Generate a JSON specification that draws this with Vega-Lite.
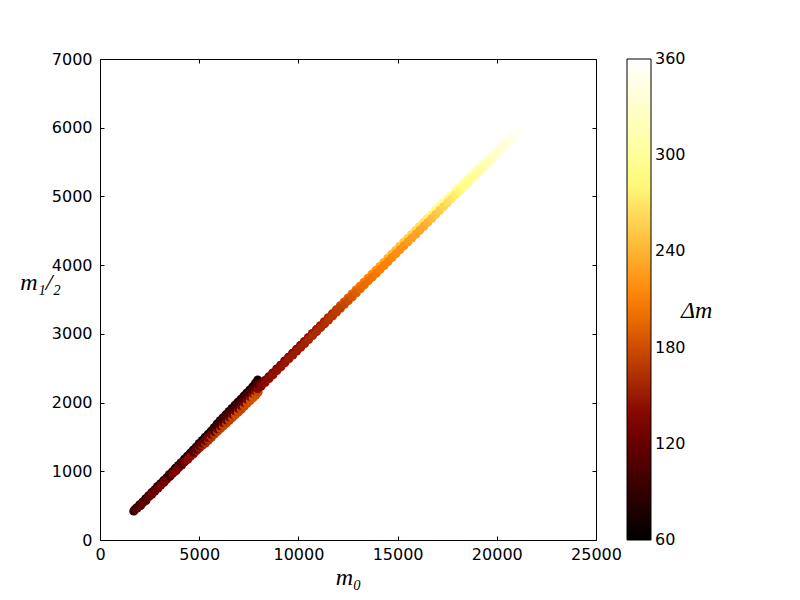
{
  "$schema": "https://vega.github.io/schema/vega-lite/v6.json",
  "width": 496,
  "height": 481,
  "autosize": {"type": "none"},
  "padding": {"left": 100, "top": 59, "right": 204, "bottom": 60},
  "background": "white",
  "title": {"text": "Δm", "orient": "top", "anchor": "start", "frame": "group", "offset": 0, "dx": 581, "dy": 284,
    "baseline": "middle", "font": "Liberation Serif", "fontStyle": "italic", "fontWeight": "normal", "fontSize": 24, "color": "black"},
  "config": {
    "view": {"stroke": "black", "strokeWidth": 1},
    "axis": {
      "domain": false,
      "grid": false,
      "tickColor": "black",
      "tickSize": -4,
      "labelFlush": false,
      "labelFont": "DejaVu Sans",
      "labelFontSize": 16,
      "labelColor": "black",
      "labelPadding": 9,
      "titleFont": "Liberation Serif",
      "titleFontStyle": "italic",
      "titleFontWeight": "normal",
      "titleFontSize": 24,
      "titleColor": "black"
    }
  },
  "data": {
    "values": [
      {"x":1700,"y":420,"d":85},{"x":1750,"y":440,"d":100},
      {"x":1850,"y":470,"d":90},{"x":1880,"y":465,"d":110},
      {"x":2000,"y":515,"d":80},{"x":2050,"y":500,"d":115},
      {"x":2150,"y":555,"d":85},{"x":2170,"y":545,"d":120},
      {"x":2300,"y":600,"d":75},{"x":2320,"y":575,"d":110},
      {"x":2450,"y":645,"d":80},{"x":2470,"y":630,"d":115},
      {"x":2600,"y":690,"d":90},{"x":2620,"y":665,"d":125},
      {"x":2750,"y":730,"d":85},{"x":2770,"y":712,"d":125},
      {"x":2900,"y":780,"d":70},{"x":2930,"y":755,"d":120},
      {"x":3050,"y":820,"d":75},{"x":3070,"y":800,"d":128},
      {"x":3200,"y":865,"d":85},{"x":3230,"y":840,"d":130},
      {"x":3350,"y":905,"d":80},{"x":3370,"y":885,"d":125},
      {"x":3500,"y":955,"d":75},{"x":3530,"y":925,"d":125},{"x":3480,"y":935,"d":100},
      {"x":3650,"y":995,"d":72},{"x":3670,"y":970,"d":130},
      {"x":3800,"y":1045,"d":70},{"x":3830,"y":1005,"d":135},
      {"x":3950,"y":1085,"d":75},{"x":3970,"y":1055,"d":132},
      {"x":4100,"y":1130,"d":80},{"x":4120,"y":1090,"d":130},{"x":4080,"y":1110,"d":105},
      {"x":4250,"y":1175,"d":78},{"x":4270,"y":1138,"d":135},
      {"x":4400,"y":1220,"d":75},{"x":4430,"y":1175,"d":140},
      {"x":4550,"y":1265,"d":72},{"x":4570,"y":1220,"d":142},
      {"x":4700,"y":1310,"d":70},{"x":4720,"y":1255,"d":145},{"x":4690,"y":1280,"d":110},
      {"x":4850,"y":1355,"d":68},{"x":4870,"y":1300,"d":148},{"x":4850,"y":1325,"d":112},
      {"x":5000,"y":1405,"d":65},{"x":5020,"y":1340,"d":150},{"x":5000,"y":1370,"d":115},
      {"x":5150,"y":1450,"d":68},{"x":5170,"y":1380,"d":155},{"x":5150,"y":1410,"d":118},
      {"x":5300,"y":1495,"d":70},{"x":5320,"y":1410,"d":160},{"x":5300,"y":1450,"d":120},
      {"x":5450,"y":1540,"d":72},{"x":5470,"y":1455,"d":162},{"x":5450,"y":1495,"d":122},
      {"x":5600,"y":1585,"d":75},{"x":5620,"y":1495,"d":165},{"x":5600,"y":1540,"d":125},
      {"x":5750,"y":1635,"d":70},{"x":5770,"y":1540,"d":168},{"x":5750,"y":1580,"d":122},{"x":5740,"y":1610,"d":95},
      {"x":5900,"y":1690,"d":65},{"x":5920,"y":1580,"d":170},{"x":5900,"y":1620,"d":120},{"x":5880,"y":1660,"d":95},
      {"x":6050,"y":1735,"d":68},{"x":6070,"y":1620,"d":172},{"x":6050,"y":1665,"d":125},{"x":6040,"y":1705,"d":95},
      {"x":6200,"y":1780,"d":70},{"x":6220,"y":1660,"d":175},{"x":6200,"y":1710,"d":130},{"x":6180,"y":1750,"d":95},
      {"x":6350,"y":1825,"d":72},{"x":6370,"y":1700,"d":172},{"x":6350,"y":1750,"d":128},{"x":6340,"y":1795,"d":98},
      {"x":6500,"y":1870,"d":75},{"x":6520,"y":1740,"d":170},{"x":6500,"y":1795,"d":125},{"x":6480,"y":1840,"d":100},
      {"x":6650,"y":1915,"d":72},{"x":6670,"y":1780,"d":175},{"x":6650,"y":1835,"d":130},{"x":6640,"y":1880,"d":100},
      {"x":6800,"y":1960,"d":70},{"x":6820,"y":1820,"d":180},{"x":6800,"y":1880,"d":135},{"x":6780,"y":1920,"d":100},
      {"x":6950,"y":2005,"d":70},{"x":6970,"y":1860,"d":178},{"x":6950,"y":1920,"d":132},{"x":6940,"y":1965,"d":98},
      {"x":7100,"y":2050,"d":72},{"x":7120,"y":1900,"d":175},{"x":7100,"y":1960,"d":130},{"x":7080,"y":2010,"d":95},
      {"x":7250,"y":2095,"d":70},{"x":7270,"y":1945,"d":178},{"x":7250,"y":2005,"d":132},{"x":7240,"y":2055,"d":98},
      {"x":7400,"y":2140,"d":70},{"x":7420,"y":1990,"d":180},{"x":7400,"y":2050,"d":135},{"x":7380,"y":2100,"d":100},
      {"x":7550,"y":2185,"d":70},{"x":7570,"y":2030,"d":182},{"x":7550,"y":2090,"d":138},{"x":7540,"y":2140,"d":102},
      {"x":7700,"y":2230,"d":68},{"x":7720,"y":2070,"d":185},{"x":7700,"y":2135,"d":140},{"x":7680,"y":2180,"d":105},
      {"x":7830,"y":2280,"d":72},{"x":7850,"y":2110,"d":182},{"x":7830,"y":2170,"d":140},{"x":7820,"y":2225,"d":102},
      {"x":7950,"y":2330,"d":75},{"x":7970,"y":2150,"d":180},{"x":7950,"y":2200,"d":140},{"x":7950,"y":2270,"d":100},
      {"x":8100,"y":2260,"d":122},{"x":8120,"y":2235,"d":138},
      {"x":8300,"y":2320,"d":125},{"x":8320,"y":2290,"d":140},
      {"x":8500,"y":2375,"d":128},{"x":8520,"y":2350,"d":142},
      {"x":8700,"y":2430,"d":130},{"x":8720,"y":2405,"d":145},
      {"x":8900,"y":2490,"d":130},{"x":8920,"y":2465,"d":145},
      {"x":9100,"y":2545,"d":130},{"x":9120,"y":2520,"d":145},
      {"x":9300,"y":2605,"d":132},{"x":9320,"y":2578,"d":148},
      {"x":9500,"y":2660,"d":135},{"x":9520,"y":2635,"d":150},
      {"x":9700,"y":2718,"d":135},{"x":9720,"y":2692,"d":150},
      {"x":9900,"y":2775,"d":135},{"x":9920,"y":2750,"d":150},
      {"x":10100,"y":2833,"d":138},{"x":10120,"y":2805,"d":152},
      {"x":10300,"y":2890,"d":140},{"x":10320,"y":2860,"d":155},
      {"x":10500,"y":2948,"d":142},{"x":10520,"y":2918,"d":158},
      {"x":10700,"y":3005,"d":145},{"x":10720,"y":2975,"d":160},
      {"x":10900,"y":3062,"d":148},{"x":10920,"y":3032,"d":160},
      {"x":11100,"y":3120,"d":150},{"x":11120,"y":3090,"d":160},
      {"x":11300,"y":3178,"d":155},{"x":11320,"y":3145,"d":162},
      {"x":11500,"y":3235,"d":160},{"x":11520,"y":3200,"d":165},
      {"x":11700,"y":3292,"d":165},{"x":11720,"y":3258,"d":168},
      {"x":11900,"y":3350,"d":170},{"x":11920,"y":3315,"d":170},
      {"x":12100,"y":3408,"d":178},{"x":12120,"y":3372,"d":172},
      {"x":12300,"y":3465,"d":185},{"x":12320,"y":3430,"d":175},
      {"x":12500,"y":3522,"d":190},{"x":12520,"y":3485,"d":180},
      {"x":12700,"y":3580,"d":195},{"x":12720,"y":3540,"d":185},
      {"x":12900,"y":3638,"d":200},{"x":12920,"y":3598,"d":190},
      {"x":13100,"y":3695,"d":205},{"x":13120,"y":3655,"d":195},
      {"x":13300,"y":3752,"d":210},{"x":13320,"y":3712,"d":198},
      {"x":13500,"y":3810,"d":215},{"x":13520,"y":3770,"d":200},
      {"x":13700,"y":3868,"d":220},{"x":13720,"y":3825,"d":202},
      {"x":13900,"y":3925,"d":225},{"x":13920,"y":3880,"d":205},
      {"x":14100,"y":3982,"d":230},{"x":14120,"y":3938,"d":208},
      {"x":14300,"y":4040,"d":235},{"x":14320,"y":3995,"d":210},
      {"x":14500,"y":4100,"d":240},{"x":14520,"y":4052,"d":212},
      {"x":14700,"y":4160,"d":245},{"x":14720,"y":4110,"d":215},
      {"x":14900,"y":4215,"d":248},{"x":14920,"y":4168,"d":218},
      {"x":15100,"y":4275,"d":250},{"x":15120,"y":4225,"d":220},
      {"x":15300,"y":4332,"d":255},{"x":15320,"y":4282,"d":222},
      {"x":15500,"y":4390,"d":260},{"x":15520,"y":4340,"d":225},
      {"x":15700,"y":4448,"d":262},{"x":15720,"y":4395,"d":228},
      {"x":15900,"y":4505,"d":265},{"x":15920,"y":4450,"d":230},
      {"x":16100,"y":4562,"d":268},{"x":16120,"y":4508,"d":232},
      {"x":16300,"y":4620,"d":270},{"x":16320,"y":4565,"d":235},
      {"x":16500,"y":4678,"d":275},{"x":16520,"y":4622,"d":240},
      {"x":16700,"y":4735,"d":280},{"x":16720,"y":4680,"d":245},
      {"x":16900,"y":4792,"d":282},{"x":16920,"y":4738,"d":250},
      {"x":17100,"y":4850,"d":285},{"x":17120,"y":4795,"d":255},
      {"x":17300,"y":4905,"d":290},{"x":17320,"y":4852,"d":260},
      {"x":17500,"y":4960,"d":295},{"x":17520,"y":4910,"d":265},
      {"x":17700,"y":5018,"d":298},{"x":17720,"y":4968,"d":270},
      {"x":17900,"y":5075,"d":300},{"x":17920,"y":5025,"d":275},
      {"x":18100,"y":5132,"d":305},{"x":18120,"y":5082,"d":280},
      {"x":18300,"y":5190,"d":310},{"x":18320,"y":5140,"d":285},
      {"x":18500,"y":5245,"d":315},{"x":18520,"y":5198,"d":290},
      {"x":18700,"y":5300,"d":320},{"x":18720,"y":5255,"d":295},
      {"x":18900,"y":5358,"d":322},{"x":18920,"y":5312,"d":300},
      {"x":19100,"y":5415,"d":325},{"x":19120,"y":5370,"d":305},
      {"x":19300,"y":5470,"d":330},{"x":19320,"y":5428,"d":310},
      {"x":19500,"y":5525,"d":335},{"x":19520,"y":5485,"d":315},
      {"x":19700,"y":5582,"d":338},{"x":19720,"y":5542,"d":320},
      {"x":19900,"y":5640,"d":340},{"x":19920,"y":5600,"d":325},
      {"x":20100,"y":5695,"d":342},{"x":20120,"y":5658,"d":330},
      {"x":20300,"y":5750,"d":345},{"x":20320,"y":5715,"d":335},
      {"x":20500,"y":5805,"d":348},{"x":20520,"y":5772,"d":340},
      {"x":20700,"y":5860,"d":350},{"x":20720,"y":5830,"d":345},
      {"x":20850,"y":5900,"d":352},{"x":20870,"y":5875,"d":348},
      {"x":21000,"y":5935,"d":355}
    ]
  },
  "layer": [
    {
      "mark": {"type": "circle", "size": 80, "opacity": 1},
      "encoding": {
        "x": {"field": "x", "type": "quantitative",
          "scale": {"domain": [0, 25000], "nice": false, "zero": false},
          "axis": {"values": [0,5000,10000,15000,20000,25000], "format": "d", "title": "m₀", "labelPadding": 10,
            "titleX": 248, "titleY": 37, "titleAlign": "center", "titleBaseline": "middle"}},
        "y": {"field": "y", "type": "quantitative",
          "scale": {"domain": [0, 7000], "nice": false, "zero": false},
          "axis": {"values": [0,1000,2000,3000,4000,5000,6000,7000], "format": "d", "title": "m₁/₂", "labelPadding": 12,
            "titleAngle": 0, "titleX": -60, "titleY": 223, "titleAlign": "center", "titleBaseline": "middle"}},
        "color": {"field": "d", "type": "quantitative",
          "scale": {"domain": [59.95, 135, 210, 285, 360.05], "range": ["#000000", "#800000", "#ff8000", "#ffff80", "#ffffff"], "interpolate": "rgb"},
          "legend": {
            "type": "gradient", "direction": "vertical", "orient": "none",
            "legendX": 527, "legendY": 0, "padding": 0,
            "gradientLength": 481, "gradientThickness": 24,
            "gradientStrokeColor": "black", "gradientStrokeWidth": 1,
            "values": [60,120,180,240,300,360],
            "labelFont": "DejaVu Sans", "labelFontSize": 16, "labelColor": "black",
            "labelOverlap": false, "labelOffset": 4,
            "title": null
          }}
      }
    },
    {
      "mark": {"type": "point", "opacity": 0},
      "encoding": {
        "x": {"field": "x", "type": "quantitative",
          "axis": {"orient": "top", "values": [0,5000,10000,15000,20000,25000], "labels": false, "title": null}},
        "y": {"field": "y", "type": "quantitative",
          "axis": {"orient": "right", "values": [0,1000,2000,3000,4000,5000,6000,7000], "labels": false, "title": null}}
      }
    }
  ],
  "resolve": {"axis": {"x": "independent", "y": "independent"}}
}
